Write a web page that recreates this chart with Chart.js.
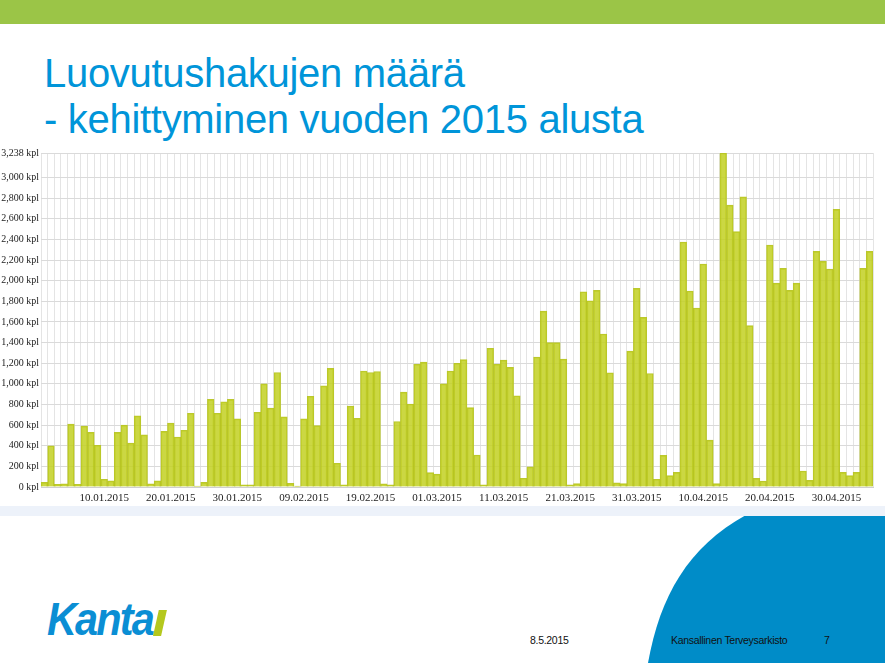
<!DOCTYPE html>
<html>
<head>
<meta charset="utf-8">
<script src="https://cdn.jsdelivr.net/npm/chart.js@4/dist/chart.umd.min.js"></script>
<style>
  body { margin: 0; width: 885px; height: 663px; overflow: hidden; background: #fff; position: relative; font-family: "Liberation Sans", Arial, sans-serif; }
  .topbar { position: absolute; left: 0; top: 0; width: 885px; height: 24px; background: #9bc547; }
  .title { position: absolute; left: 44px; top: 50px; color: #0095d9; font-size: 40px; line-height: 46px; letter-spacing: -0.3px; }
  .band { position: absolute; left: 0; top: 506px; width: 885px; height: 10px; background: #edf2fa; }
  #chart { position: absolute; left: 0; top: 140px; }
  .wave { position: absolute; left: 0; top: 0; }
  .logo { position: absolute; left: 47px; top: 592px; color: #0a8ed4; font-size: 46px; font-weight: bold; font-style: italic; letter-spacing: -2px; transform: scaleX(0.9); transform-origin: left top; }
  .logo span { display: inline-block; width: 9px; height: 26px; background: #b4c81e; transform: skewX(-14deg); margin-left: 3px; vertical-align: -1px; }
  .foot { position: absolute; top: 634px; font-size: 10.5px; letter-spacing: -0.3px; color: #111; }
</style>
</head>
<body>
<div class="topbar"></div>
<svg class="wave" width="885" height="663"><path d="M648,663 C660,596 688,547 746,515 L885,515 L885,663 Z" fill="#008cc8"/></svg>
<div class="title">Luovutushakujen määrä<br>- kehittyminen vuoden 2015 alusta</div>
<div class="band"></div>
<canvas id="chart" width="885" height="370"></canvas>
<div class="logo">Kanta<span></span></div>
<div class="foot" style="left:530px">8.5.2015</div>
<div class="foot" style="left:671px">Kansallinen Terveysarkisto</div>
<div class="foot" style="left:824px">7</div>
<script>
// 1.1.2015 - 5.5.2015, one bar per day
const startDate = new Date(2015, 0, 1);
const dayCount = 125;

const values = [
  45, 400, 25, 30, 610, 25, 590, 530, 405, 75,
  60, 530, 600, 425, 690, 505, 30, 60, 540, 620,
  485, 550, 715, 10, 45, 850, 715, 825, 850, 660,
  20, 20, 725, 1000, 765, 1110, 680, 35, 8, 660,
  880, 595, 980, 1150, 230, 22, 785, 665, 1125, 1110,
  1120, 30, 20, 635, 920, 805, 1190, 1210, 140, 125,
  1000, 1125, 1200, 1235, 770, 310, 20, 1345, 1190, 1230,
  1160, 885, 85, 195, 1260, 1705, 1400, 1400, 1240, 20,
  32, 1893, 1806, 1906, 1483, 1108, 40, 32, 1318, 1926,
  1645, 1100, 75, 307, 110, 142, 2375, 1900, 1735, 2162,
  455, 32, 3238, 2733, 2475, 2814, 1564, 84, 58, 2346,
  1977, 2120, 1906, 1977, 155, 65, 2284, 2187, 2113, 2691,
  142, 110, 142, 2120, 2284
];

const yTicks = [0, 200, 400, 600, 800, 1000, 1200, 1400, 1600, 1800, 2000, 2200, 2400, 2600, 2800, 3000, 3238];
const xLabelDays = ['10.01.2015', '20.01.2015', '30.01.2015', '09.02.2015', '19.02.2015', '01.03.2015',
  '11.03.2015', '21.03.2015', '31.03.2015', '10.04.2015', '20.04.2015', '30.04.2015'];

function pad(n) { return n < 10 ? '0' + n : '' + n; }
const days = [];
for (let i = 0; i < dayCount; i++) {
  const d = new Date(startDate.getFullYear(), startDate.getMonth(), startDate.getDate() + i);
  days.push(pad(d.getDate()) + '.' + pad(d.getMonth() + 1) + '.' + d.getFullYear());
}

const ctx = document.getElementById('chart').getContext('2d');
const chart = new Chart(ctx, {
  type: 'bar',
  data: {
    labels: days,
    datasets: [{
      label: 'Luovutushaut',
      data: values,
      backgroundColor: 'rgba(194,208,34,0.85)',
      borderColor: 'rgba(180,194,22,0.9)',
      borderWidth: 1,
      barPercentage: 1,
      categoryPercentage: 1
    }]
  },
  options: {
    responsive: false,
    animation: false,
    layout: { padding: { top: 13, right: 12, bottom: 5, left: 0 } },
    plugins: { legend: { display: false }, tooltip: { enabled: false } },
    scales: {
      x: {
        grid: { color: '#e4e4e4', drawTicks: false },
        border: { color: '#cfcfcf' },
        ticks: {
          autoSkip: false,
          maxRotation: 0,
          padding: 5,
          color: '#222',
          font: { family: 'Liberation Serif', size: 11 },
          callback: function (v, i) {
            const l = days[i];
            return xLabelDays.includes(l) ? l : '';
          }
        },
        afterFit: function (scale) { scale.height = 18; }
      },
      y: {
        min: 0,
        max: 3238,
        grid: { color: '#dadada', drawTicks: false },
        border: { display: false },
        afterBuildTicks: function (scale) { scale.ticks = yTicks.map(v => ({ value: v })); },
        afterFit: function (scale) { scale.width = 41; },
        ticks: {
          padding: 2,
          color: '#222',
          font: { family: 'Liberation Serif', size: 10 },
          callback: function (v) { return v.toLocaleString('en-US') + ' kpl'; }
        }
      }
    }
  }
});
</script>
</body>
</html>
